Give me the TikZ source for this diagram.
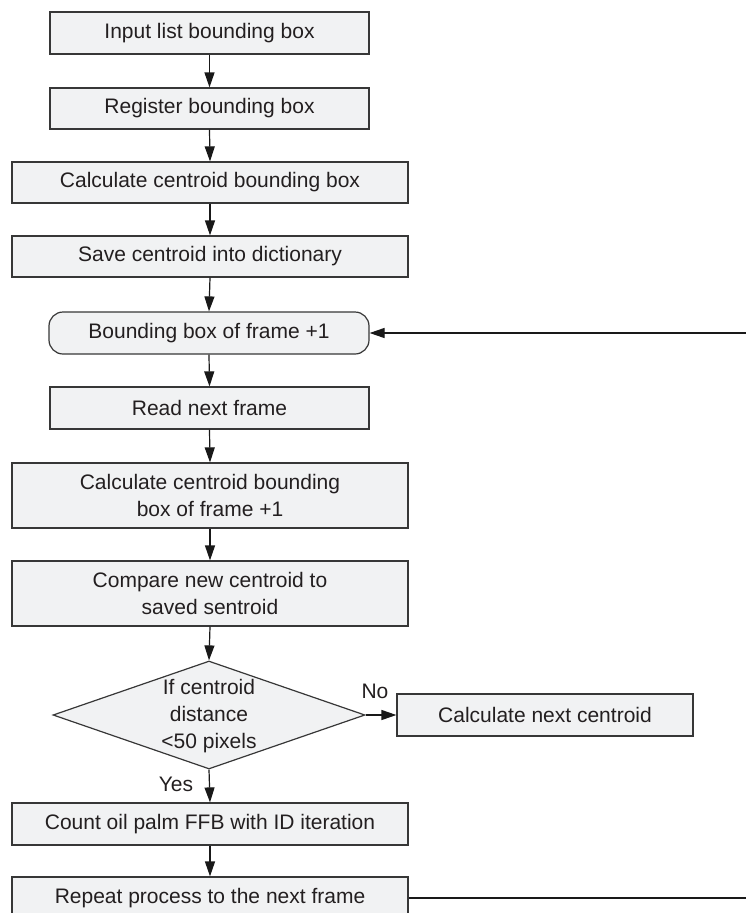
\documentclass[tikz,border=0pt]{standalone}
\usepackage{fontspec}
\setmainfont{Liberation Sans}
\usetikzlibrary{arrows.meta,shapes.geometric}
\definecolor{boxfill}{RGB}{241,242,243}
\definecolor{boxline}{RGB}{55,55,55}
\definecolor{txt}{RGB}{35,31,32}
\begin{document}
\begin{tikzpicture}[x=1pt,y=-1pt,
  font=\fontsize{21}{27}\selectfont,
  every node/.style={text=txt},
  stepbox/.style={draw=boxline,fill=boxfill,line width=1.2pt,inner sep=0pt,align=center,minimum height=42pt},
  narrowbox/.style={stepbox,minimum width=319pt},
  widebox/.style={stepbox,minimum width=396pt},
  roundbox/.style={stepbox,minimum width=320pt,rounded corners=14pt},
  decision/.style={draw=boxline,fill=boxfill,line width=1.2pt,shape=diamond,inner sep=0pt,minimum width=312pt,minimum height=108pt},
  conn/.style={draw=black!90,line width=1.2pt},
  arr/.style={conn,-{Triangle[length=15pt,width=10pt]}},
  lbl/.style={inner sep=0pt}
]
\useasboundingbox (0,0) rectangle (745,913);

\node[narrowbox] (b1) at (209.5,33) {Input list bounding box};
\node[narrowbox,minimum height=41pt] (b2) at (209.5,108.5) {Register bounding box};
\node[widebox,minimum height=41pt] (b3) at (210,182.5) {Calculate centroid bounding box};
\node[widebox,minimum height=41pt] (b4) at (210,256.5) {Save centroid into dictionary};
\node[roundbox] (b5) at (209,333) {Bounding box of frame +1};
\node[narrowbox] (b6) at (209.5,408) {Read next frame};
\node[widebox,minimum height=65pt] (b7) at (210,495.5) {Calculate centroid bounding\\box of frame +1};
\node[widebox,minimum height=65pt] (b8) at (210,593.5) {Compare new centroid to\\saved sentroid};
\node[decision] (d) at (209,715) {};
\node[lbl,align=center] (dtxt) at (209,716) {If centroid\\distance\\<50 pixels};
\node[stepbox,minimum width=296pt] (nc) at (545,715) {Calculate next centroid};
\node[widebox] (b9) at (210,824) {Count oil palm FFB with ID iteration};
\node[widebox] (b10) at (210,898) {Repeat process to the next frame};

\node[lbl] (no) at (375,691) {No};
\node[lbl] (yes) at (176,784) {Yes};

\coordinate (r1) at (746,898);
\coordinate (r2) at (746,333);

\draw[arr] (b1.south) -- (b2.north);
\draw[arr] (b2.south) -- (b3.north);
\draw[arr] (b3.south) -- (b4.north);
\draw[arr] (b4.south) -- (b5.north);
\draw[arr] (b5.south) -- (b6.north);
\draw[arr] (b6.south) -- (b7.north);
\draw[arr] (b7.south) -- (b8.north);
\draw[arr] (b8.south) -- (d.north);
\draw[arr] (d.east) -- (nc.west);
\draw[arr] (d.south) -- (b9.north);
\draw[arr] (b9.south) -- (b10.north);
\draw[conn] (b10.east) -- (r1);
\draw[arr] (r2) -- (b5.east);
\end{tikzpicture}
\end{document}
